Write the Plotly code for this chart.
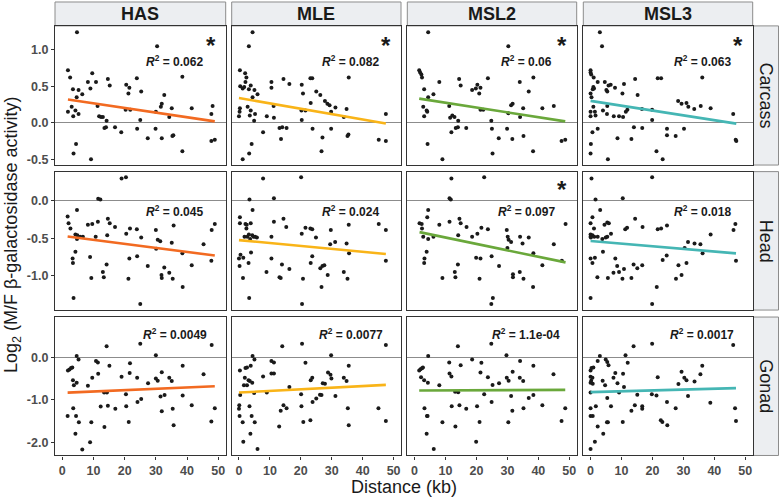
import plotly.graph_objects as go

tissues = ["Carcass", "Head", "Gonad"]
factors = ["HAS", "MLE", "MSL2", "MSL3"]
line_colors = ["#F26A21", "#F9B418", "#6AA83B", "#45B6B4"]

# (distance kb, log2 M/F) pairs
carcass_has = [(4.7,1.24),(30.4,1.05),(1.8,0.72),(2.5,0.62),(3.4,0.46),(5.2,0.45),(6.4,0.39),(4.6,0.35),
    (9.6,0.68),(10.8,0.56),(8.2,0.56),(9.0,0.47),(14.6,0.60),(15.2,0.51),(23.9,0.61),(20.5,0.52),(21.5,0.48),
    (21.2,0.40),(25.3,0.43),(38.5,0.63),(32.7,0.38),(31.9,0.26),(31.6,0.22),(30.0,0.15),(1.8,0.15),(3.0,0.22),
    (4.2,0.17),(5.2,0.12),(3.5,0.09),(11.3,0.23),(11.8,0.09),(12.4,0.08),(13.0,0.08),(14.2,0.03),(13.5,-0.07),
    (14.0,-0.06),(16.9,-0.06),(18.9,-0.13),(20.3,0.18),(21.8,0.18),(24.0,-0.08),(25.0,0.04),(27.4,-0.21),
    (29.9,-0.08),(31.9,-0.21),(34.3,0.08),(35.1,0.20),(35.6,-0.17),(35.3,-0.18),(41.5,0.20),(48.2,0.23),
    (47.8,0.12),(38.5,-0.39),(47.8,-0.25),(48.9,-0.23),(4.4,-0.29),(3.6,-0.42),(9.2,-0.50)]
carcass_mle = [(4.4,1.24),(3.2,1.05),(0.3,0.72),(2.0,0.68),(2.4,0.62),(2.1,0.56),(0.4,0.50),(1.2,0.47),(1.7,0.49),
    (3.2,0.46),(3.8,0.51),(5.0,0.45),(6.0,0.39),(4.4,0.35),(10.5,0.56),(10.5,0.48),(14.4,0.60),(16.3,0.53),
    (20.3,0.52),(20.7,0.40),(23.1,0.61),(23.7,0.61),(25.0,0.43),(26.3,0.38),(35.5,0.62),(27.8,0.30),(28.6,0.26),
    (29.3,0.24),(31.2,0.21),(29.8,0.15),(34.8,0.19),(47.5,0.12),(11.2,0.23),(23.2,0.27),(20.2,0.17),(21.5,0.17),
    (2.8,0.22),(0.3,0.20),(0.2,0.15),(0.0,0.09),(3.5,0.10),(3.8,0.17),(5.2,0.12),(4.9,0.03),(9.0,0.09),
    (11.3,0.07),(20.3,0.04),(33.9,0.08),(7.8,-0.13),(13.1,-0.07),(14.0,-0.06),(15.4,-0.07),(13.6,-0.22),
    (23.8,-0.08),(29.8,-0.08),(27.0,-0.20),(35.4,-0.16),(35.1,-0.18),(45.2,-0.23),(47.5,-0.25),(4.1,-0.29),
    (3.3,-0.42),(26.7,-0.39),(1.2,-0.50)]
carcass_msl2 = [(4.4,1.24),(30.3,1.05),(1.5,0.72),(1.8,0.69),(2.2,0.66),(2.4,0.62),(3.1,0.46),(8.0,0.56),(6.1,0.39),
    (4.4,0.35),(14.4,0.60),(14.9,0.51),(20.3,0.52),(19.8,0.47),(21.3,0.48),(18.6,0.45),(20.9,0.40),(23.7,0.61),
    (34.0,0.56),(38.4,0.62),(36.9,0.43),(2.8,0.22),(3.9,0.17),(4.1,0.15),(3.1,0.09),(11.2,0.23),(11.5,0.07),
    (12.2,0.10),(12.9,0.08),(14.1,0.03),(13.3,-0.07),(14.0,-0.06),(16.7,-0.07),(11.9,-0.13),(21.3,0.18),
    (22.2,0.18),(24.8,0.03),(25.0,-0.08),(27.2,-0.21),(29.9,-0.08),(31.6,-0.22),(30.3,0.13),(31.2,0.24),
    (31.7,0.26),(34.1,0.08),(35.1,0.20),(35.2,-0.18),(41.3,0.20),(45.0,0.23),(38.3,-0.39),(47.5,-0.25),
    (48.7,-0.23),(4.2,-0.29),(9.0,-0.50),(25.2,-0.42)]
carcass_msl3 = [(3.0,1.24),(3.7,1.05),(0.0,0.72),(0.0,0.69),(0.2,0.66),(1.0,0.62),(2.3,0.56),(0.9,0.49),(1.1,0.47),
    (0.7,0.46),(4.6,0.56),(5.1,0.45),(5.4,0.43),(5.8,0.51),(6.5,0.52),(7.9,0.48),(10.8,0.53),(10.3,0.40),
    (14.4,0.60),(15.2,0.38),(21.7,0.61),(22.8,0.61),(36.1,0.62),(0.0,0.40),(0.3,0.35),(28.3,0.30),(29.4,0.26),
    (31.0,0.27),(31.6,0.22),(33.5,0.19),(35.6,0.23),(38.8,0.20),(46.1,0.12),(0.9,0.22),(4.0,0.17),(5.4,0.23),
    (5.3,0.12),(1.4,0.15),(0.0,0.15),(0.0,0.09),(1.6,0.10),(7.5,0.09),(9.2,0.09),(10.5,0.08),(11.4,0.15),
    (11.9,0.18),(16.6,0.19),(19.9,0.18),(19.9,0.04),(2.3,-0.08),(14.0,-0.06),(16.7,-0.07),(24.7,-0.08),
    (30.2,-0.08),(24.7,-0.17),(27.5,-0.18),(8.7,-0.21),(13.2,-0.22),(0.6,-0.13),(0.1,-0.29),(0.0,-0.42),
    (46.9,-0.23),(47.1,-0.25),(21.3,-0.39),(23.3,-0.50),(5.6,-0.50)]

head_has = [(19.0,0.30),(20.4,0.315),(11.5,0.03),(12.2,0.02),(1.7,-0.21),(2.0,-0.30),(2.6,-0.37),(4.7,-0.12),
    (4.2,-0.45),(4.8,-0.46),(5.7,-0.48),(6.6,-0.48),(4.7,-0.51),(3.3,-0.77),(3.4,-0.83),(4.2,-0.68),(3.6,-1.30),
    (8.2,-0.32),(9.6,-0.31),(11.4,-0.28),(10.7,-0.48),(14.6,-0.24),(15.2,-0.30),(16.9,-0.35),(14.4,-0.46),
    (8.9,-0.75),(9.3,-1.03),(13.0,-0.95),(13.3,-1.02),(14.2,-0.85),(20.5,-0.44),(21.7,-0.37),(23.9,-0.38),
    (25.3,-0.49),(21.5,-0.77),(21.2,-1.04),(24.0,-0.74),(25.0,-1.38),(27.4,-0.87),(30.0,-0.39),(30.6,-0.52),
    (31.4,-0.54),(30.1,-0.64),(35.7,-0.33),(35.1,-0.56),(31.8,-0.99),(31.9,-1.03),(32.7,-0.89),(34.3,-0.96),
    (35.4,-1.04),(38.5,-0.70),(41.5,-0.86),(38.6,-1.15),(45.3,-0.58),(47.9,-0.39),(48.9,-0.31),(47.8,-0.80)]
head_mle = [(7.8,0.30),(20.1,0.315),(3.4,0.02),(11.3,0.036),(4.4,-0.12),(0.3,-0.22),(0.3,-0.30),(2.1,-0.31),
    (2.5,-0.32),(2.4,-0.37),(3.8,-0.30),(1.8,-0.48),(2.7,-0.48),(3.2,-0.45),(4.3,-0.46),(4.7,-0.48),(5.2,-0.48),
    (5.8,-0.49),(3.6,-0.51),(10.5,-0.48),(11.3,-0.28),(14.4,-0.24),(15.3,-0.35),(3.9,-0.69),(0.5,-0.72),
    (0.0,-0.77),(1.4,-0.76),(0.2,-0.87),(3.1,-0.83),(1.3,-1.03),(3.3,-1.30),(10.5,-0.77),(8.9,-0.95),
    (13.9,-0.85),(13.1,-1.02),(13.5,-1.03),(16.3,-0.91),(20.3,-0.44),(21.5,-0.36),(23.1,-0.37),(23.7,-0.38),
    (24.9,-0.49),(20.7,-1.04),(20.4,-1.38),(23.7,-0.74),(23.2,-0.83),(26.3,-0.90),(27.0,-0.87),(27.6,-0.86),
    (26.7,-1.15),(28.7,-0.99),(29.7,-0.39),(29.5,-0.58),(31.1,-0.55),(35.5,-0.32),(34.8,-0.57),(35.6,-0.70),
    (33.9,-0.95),(35.1,-1.04),(45.2,-0.31),(47.5,-0.39),(47.5,-0.80)]
head_msl2 = [(11.9,0.30),(22.5,0.315),(11.3,0.036),(11.7,0.02),(4.4,-0.12),(4.1,-0.22),(1.6,-0.30),(2.3,-0.31),
    (2.4,-0.37),(2.8,-0.48),(4.4,-0.51),(6.1,-0.48),(3.9,-0.68),(3.2,-0.77),(3.1,-0.83),(8.0,-0.32),(11.3,-0.28),
    (14.5,-0.24),(14.9,-0.30),(16.8,-0.35),(14.1,-0.46),(18.6,-0.48),(20.3,-0.44),(21.6,-0.36),(23.7,-0.38),
    (19.9,-0.76),(21.3,-0.77),(14.0,-0.85),(13.0,-0.95),(13.2,-1.02),(9.0,-1.03),(21.0,-1.04),(24.9,-0.74),
    (27.3,-0.87),(25.3,-1.30),(24.8,-1.38),(29.8,-0.39),(30.1,-0.48),(30.4,-0.52),(31.2,-0.55),(30.0,-0.63),
    (34.1,-0.48),(34.9,-0.57),(36.9,-0.49),(38.4,-0.70),(41.3,-0.86),(31.8,-0.98),(31.8,-1.02),(34.0,-0.95),
    (35.2,-1.04),(38.3,-1.15),(45.0,-0.58),(48.8,-0.31),(47.6,-0.80)]
head_msl3 = [(0.3,0.30),(19.9,0.315),(1.6,0.02),(10.4,0.036),(3.1,-0.12),(0.6,-0.22),(0.0,-0.30),(1.1,-0.37),
    (4.5,-0.32),(5.4,-0.29),(5.9,-0.30),(0.0,-0.45),(0.0,-0.48),(0.1,-0.49),(0.6,-0.46),(1.2,-0.48),(2.3,-0.48),
    (3.8,-0.51),(4.9,-0.49),(5.4,-0.48),(6.6,-0.44),(4.0,-0.68),(0.0,-0.77),(1.4,-0.76),(0.6,-0.83),(2.2,-1.02),
    (0.0,-1.30),(8.0,-0.77),(5.6,-1.03),(8.6,-0.87),(7.4,-0.96),(9.2,-0.95),(10.8,-0.91),(10.3,-1.04),
    (11.2,-0.38),(11.8,-0.36),(14.4,-0.24),(16.8,-0.35),(13.2,-1.03),(13.9,-0.85),(15.1,-0.90),(16.7,-0.86),
    (21.7,-0.38),(22.8,-0.37),(24.7,-0.33),(21.4,-1.15),(19.9,-1.38),(23.3,-0.79),(24.6,-0.73),(27.6,-1.04),
    (29.4,-0.99),(28.4,-0.86),(31.0,-0.83),(30.4,-0.63),(31.5,-0.55),(33.6,-0.57),(35.5,-0.58),(36.2,-0.70),
    (38.8,-0.45),(46.2,-0.39),(46.8,-0.31),(47.0,-0.80)]

gonad_has = [(25.0,0.32),(14.2,0.26),(47.9,0.29),(30.0,0.05),(4.6,0.03),(5.2,-0.05),(1.8,-0.31),(2.3,-0.29),
    (2.8,-0.25),(3.2,-0.24),(10.8,-0.09),(11.4,-0.12),(15.1,-0.20),(11.5,-0.39),(9.6,-0.48),(3.4,-0.54),
    (4.6,-0.60),(3.7,-0.66),(8.2,-0.67),(14.3,-0.83),(13.4,-0.83),(12.3,-1.16),(14.6,-1.14),(3.5,-1.20),
    (1.7,-1.38),(4.4,-1.38),(5.3,-1.53),(9.3,-1.53),(13.5,-1.64),(4.2,-1.80),(8.9,-2.00),(6.4,-2.17),
    (21.7,-0.14),(21.6,-0.37),(19.0,-0.46),(24.0,-0.48),(20.4,-0.87),(17.0,-1.21),(20.5,-1.15),(21.3,-1.52),
    (24.1,-1.05),(25.3,-0.98),(27.5,-0.61),(30.0,-0.50),(30.6,-0.55),(31.9,-0.35),(34.3,-0.48),(35.1,-0.56),
    (32.8,-0.89),(31.5,-0.92),(31.9,-1.27),(35.4,-1.21),(35.7,-1.60),(38.6,-0.20),(38.6,-0.90),(41.5,-1.13),
    (45.3,-0.40),(47.8,-1.51),(48.9,-1.20)]
gonad_mle = [(14.0,0.26),(20.4,0.32),(47.5,0.29),(29.8,0.05),(4.4,0.03),(5.0,-0.05),(10.5,-0.09),(11.3,-0.12),
    (21.5,-0.13),(35.5,-0.20),(0.3,-0.31),(2.1,-0.25),(2.6,-0.24),(3.8,-0.20),(1.9,-0.48),(7.8,-0.45),
    (10.5,-0.38),(11.3,-0.38),(3.1,-0.54),(3.5,-0.56),(4.3,-0.60),(1.6,-0.66),(2.6,-0.66),(16.3,-0.70),
    (23.2,-0.54),(23.7,-0.48),(27.1,-0.61),(27.8,-0.62),(28.8,-0.36),(29.6,-0.41),(29.9,-0.50),(33.9,-0.48),
    (34.8,-0.56),(0.4,-0.89),(4.9,-0.84),(9.0,-0.83),(20.1,-0.87),(26.2,-0.88),(26.7,-0.89),(31.2,-0.91),
    (0.1,-1.13),(0.0,-1.21),(3.4,-1.15),(14.4,-1.13),(15.4,-1.20),(13.5,-1.26),(20.2,-1.15),(23.8,-1.05),
    (25.0,-0.97),(0.2,-1.38),(4.1,-1.38),(1.2,-1.53),(5.1,-1.53),(20.8,-1.52),(23.1,-1.48),(13.0,-1.63),
    (3.7,-1.80),(1.4,-1.99),(6.0,-2.16),(35.2,-1.20),(35.5,-1.60),(45.1,-1.20),(47.5,-1.50)]
gonad_msl2 = [(14.0,0.26),(24.8,0.32),(29.7,0.05),(4.4,0.03),(18.6,-0.05),(11.2,-0.12),(21.6,-0.13),(14.9,-0.19),
    (34.1,-0.09),(38.4,-0.20),(1.5,-0.31),(1.9,-0.28),(2.4,-0.26),(2.7,-0.24),(2.1,-0.47),(3.1,-0.54),
    (4.3,-0.60),(8.0,-0.66),(11.3,-0.38),(11.9,-0.45),(21.3,-0.36),(23.7,-0.47),(25.2,-0.65),(27.3,-0.61),
    (29.8,-0.48),(30.4,-0.55),(31.7,-0.34),(34.0,-0.48),(35.1,-0.56),(44.9,-0.40),(13.1,-0.81),(14.1,-0.82),
    (22.5,-0.87),(31.2,-0.91),(36.9,-0.96),(38.4,-0.89),(3.2,-1.20),(4.0,-1.38),(4.2,-1.38),(3.9,-1.80),
    (6.2,-2.16),(9.0,-1.53),(12.0,-1.15),(13.2,-1.63),(14.5,-1.13),(16.7,-1.21),(20.2,-1.15),(19.9,-1.99),
    (21.0,-1.52),(24.9,-1.05),(31.6,-1.26),(30.3,-1.53),(35.2,-1.20),(41.3,-1.13),(47.5,-1.50),(48.7,-1.20)]
gonad_msl3 = [(13.9,0.26),(19.9,0.32),(46.1,0.29),(3.0,0.03),(4.9,-0.05),(5.4,-0.11),(5.8,-0.19),(11.3,0.05),
    (12.0,-0.13),(2.3,-0.09),(0.0,-0.31),(0.3,-0.25),(0.9,-0.24),(36.1,-0.20),(29.4,-0.34),(35.5,-0.40),
    (0.0,-0.46),(0.6,-0.48),(0.2,-0.55),(0.0,-0.60),(0.7,-0.62),(3.9,-0.55),(4.7,-0.66),(7.4,-0.48),(8.0,-0.37),
    (8.7,-0.61),(10.5,-0.39),(10.8,-0.70),(21.7,-0.47),(28.4,-0.63),(30.3,-0.48),(31.0,-0.54),(33.6,-0.57),
    (0.0,-0.83),(9.2,-0.83),(15.1,-0.88),(19.8,-0.87),(21.3,-0.90),(31.5,-0.91),(24.7,-1.05),(38.7,-1.07),
    (1.7,-1.15),(0.0,-1.20),(6.6,-1.15),(5.4,-0.96),(14.3,-1.13),(16.7,-1.15),(16.7,-1.21),(13.2,-1.26),
    (27.5,-1.20),(0.0,-1.38),(0.7,-1.38),(5.3,-1.53),(5.6,-1.53),(10.4,-1.52),(22.7,-1.48),(23.2,-1.52),
    (24.8,-1.60),(2.3,-1.63),(4.1,-1.80),(1.4,-1.99),(0.0,-2.16),(46.7,-1.20),(47.0,-1.50)]

panel_data = [
    [carcass_has, carcass_mle, carcass_msl2, carcass_msl3],
    [head_has, head_mle, head_msl2, head_msl3],
    [gonad_has, gonad_mle, gonad_msl2, gonad_msl3],
]

# linear fits (intercept, slope)
fit_intercepts = [[0.331, 0.340, 0.341, 0.300],
                  [-0.466, -0.524, -0.404, -0.537],
                  [-0.836, -0.830, -0.781, -0.820]]
fit_slopes = [[-0.00637, -0.00737, -0.0066, -0.0066],
              [-0.0054, -0.00393, -0.00857, -0.0035],
              [0.00318, 0.0038, 0.0003, 0.002]]
r2_labels = [["0.062", "0.082", "0.06", "0.063"],
             ["0.045", "0.024", "0.097", "0.018"],
             ["0.0049", "0.0077", "1.1e-04", "0.0017"]]
significant = [[True, True, True, True],
               [False, False, True, False],
               [False, False, False, False]]

x_ticks = [0, 10, 20, 30, 40, 50]
y_ticks = [[-0.5, 0.0, 0.5, 1.0], [-1.0, -0.5, 0.0], [-2.0, -1.0, 0.0]]
y_ranges = [[-0.578, 1.327], [-1.46, 0.392], [-2.31, 0.947]]
x_range = [-2.35, 52.4]
r2_pos = [0.84, -0.14, 0.555]
star_pos = [1.06, 0.15, 0.5]

W, H = 780, 502
cols_px = [(55, 225.7), (231.7, 401), (407.3, 576.7), (583.3, 752.7)]
rows_px = [(26, 165.7), (172.3, 311.3), (318.3, 457.3)]
FONT = "Liberation Sans, Arial, sans-serif"

fig = go.Figure()
layout = dict(width=W, height=H, margin=dict(l=0, r=0, t=0, b=0),
              paper_bgcolor="white", plot_bgcolor="white", showlegend=False,
              font=dict(family=FONT))
shapes, annotations = [], []

for r in range(3):
    for c in range(4):
        idx = r * 4 + c + 1
        sfx = "" if idx == 1 else str(idx)
        pts = panel_data[r][c]
        xs = [p[0] for p in pts]
        ys = [p[1] for p in pts]
        fig.add_trace(go.Scatter(x=xs, y=ys, mode="markers",
                                 marker=dict(size=4, color="#1A1A1A"),
                                 xaxis="x" + sfx, yaxis="y" + sfx))
        x0, x1 = min(xs), max(xs)
        b0, b1 = fit_intercepts[r][c], fit_slopes[r][c]
        fig.add_trace(go.Scatter(x=[x0, x1], y=[b0 + b1 * x0, b0 + b1 * x1], mode="lines",
                                 line=dict(color=line_colors[c], width=2.6),
                                 xaxis="x" + sfx, yaxis="y" + sfx))
        L, R = cols_px[c]
        T, B = rows_px[r]
        bottom = (r == 2)
        left = (c == 0)
        layout["xaxis" + sfx] = dict(
            domain=[L / W, R / W], range=x_range, anchor="y" + sfx,
            showline=True, mirror=True, linecolor="#333333", linewidth=1.3,
            showgrid=False, zeroline=False,
            tickvals=x_ticks, ticktext=[str(v) for v in x_ticks],
            showticklabels=bottom, ticks="outside" if bottom else "",
            ticklen=3, tickcolor="#333333",
            tickfont=dict(size=12.5, color="#4D4D4D", family=FONT, weight="bold"))
        layout["yaxis" + sfx] = dict(
            domain=[1 - B / H, 1 - T / H], range=y_ranges[r], anchor="x" + sfx,
            showline=True, mirror=True, linecolor="#333333", linewidth=1.3,
            showgrid=False, zeroline=True, zerolinecolor="#8C8C8C", zerolinewidth=1,
            tickvals=y_ticks[r], ticktext=["%.1f" % v for v in y_ticks[r]],
            showticklabels=left, ticks="outside" if left else "",
            ticklen=3, tickcolor="#333333",
            tickfont=dict(size=12.5, color="#4D4D4D", family=FONT, weight="bold"))
        annotations.append(dict(
            xref="x" + sfx, yref="y" + sfx, x=36.1, y=r2_pos[r], showarrow=False,
            text="<b><i>R</i><sup>2</sup> = " + r2_labels[r][c] + "</b>",
            font=dict(size=12, color="#1A1A1A", family=FONT), xanchor="center", yanchor="middle"))
        if significant[r][c]:
            annotations.append(dict(
                xref="x" + sfx, yref="y" + sfx, x=47.7, y=star_pos[r], showarrow=False,
                text="<b>*</b>", font=dict(size=24, color="#1A1A1A", family=FONT),
                xanchor="center", yanchor="middle"))

# top strips
for c in range(4):
    L, R = cols_px[c]
    shapes.append(dict(type="rect", xref="paper", yref="paper", x0=L / W, x1=R / W,
                       y0=1 - 26 / H, y1=1 - 2 / H, fillcolor="#ECEEF1",
                       line=dict(color="#8C8C8C", width=1), layer="below"))
    annotations.append(dict(xref="paper", yref="paper", x=(L + R) / 2 / W, y=1 - 14.5 / H,
                            text="<b>" + factors[c] + "</b>", showarrow=False,
                            font=dict(size=18, color="#1A1A1A", family=FONT),
                            xanchor="center", yanchor="middle"))
# right strips
for r in range(3):
    T, B = rows_px[r]
    shapes.append(dict(type="rect", xref="paper", yref="paper", x0=753.5 / W, x1=778.5 / W,
                       y0=1 - B / H, y1=1 - T / H, fillcolor="#ECEEF1",
                       line=dict(color="#8C8C8C", width=1), layer="below"))
    annotations.append(dict(xref="paper", yref="paper", x=766 / W, y=1 - (T + B) / 2 / H,
                            text=tissues[r], showarrow=False, textangle=90,
                            font=dict(size=18, color="#1A1A1A", family=FONT),
                            xanchor="center", yanchor="middle"))

annotations.append(dict(xref="paper", yref="paper", x=12 / W, y=1 - 236 / H,
                        text="Log<sub>2</sub> (M/F β-galactosidase activity)", showarrow=False,
                        textangle=-90, font=dict(size=18, color="#1A1A1A", family=FONT),
                        xanchor="center", yanchor="middle"))
annotations.append(dict(xref="paper", yref="paper", x=404 / W, y=1 - 489 / H,
                        text="Distance (kb)", showarrow=False,
                        font=dict(size=18, color="#1A1A1A", family=FONT),
                        xanchor="center", yanchor="middle"))

layout["shapes"] = shapes
layout["annotations"] = annotations
fig.update_layout(**layout)
fig.write_html("out.html", config={"displayModeBar": False},
               post_script="document.body.style.margin='0';document.body.style.padding='0';")
